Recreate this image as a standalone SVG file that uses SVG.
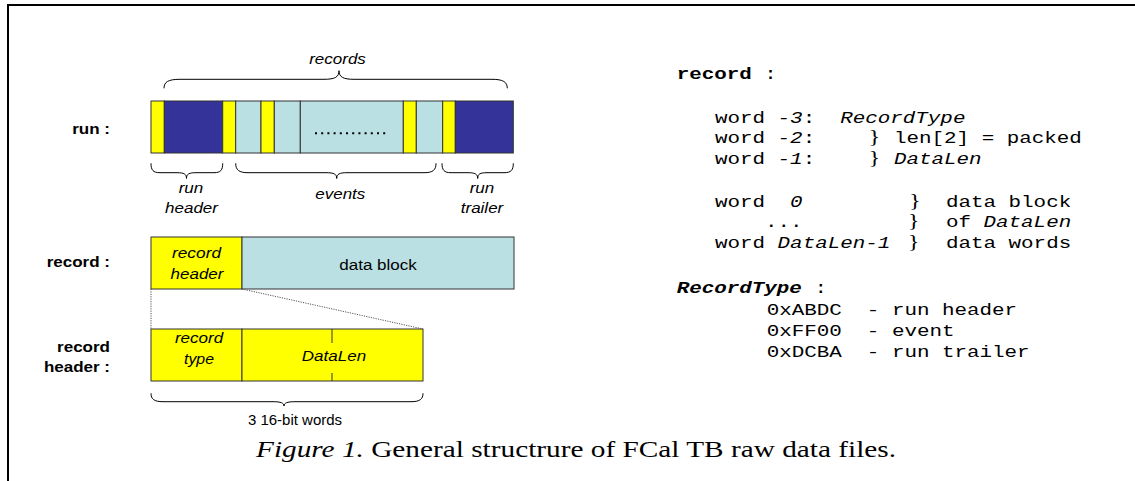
<svg xmlns="http://www.w3.org/2000/svg" width="1135" height="481" viewBox="0 0 1135 481">
<defs>
<style>
.y{fill:#FFFF00;stroke:#333333;stroke-width:1}
.n{fill:#333399;stroke:#333333;stroke-width:1}
.l{fill:#BBE0E3;stroke:#333333;stroke-width:1}
.br{fill:none;stroke:#000;stroke-width:1}
.dot{fill:none;stroke:#555;stroke-width:1;stroke-dasharray:1.2,1.2}
.lbl{font-family:"Liberation Sans",Arial,sans-serif;font-size:15.5px;font-weight:bold;fill:#000;text-anchor:end}
.it{font-family:"Liberation Sans",Arial,sans-serif;font-size:15.5px;font-style:italic;fill:#000;text-anchor:middle}
.rg{font-family:"Liberation Sans",Arial,sans-serif;font-size:15.5px;fill:#000;text-anchor:middle}
.mono{font-family:"Liberation Mono","Courier New",monospace;font-size:16.7px;fill:#000;white-space:pre}
.brc{font-family:"Liberation Serif","Times New Roman",serif;font-size:19px;fill:#000}
.i{font-style:italic}
.b{font-weight:bold}
.cap{font-family:"Liberation Serif","Times New Roman",serif;font-size:24px;fill:#000}
</style>
</defs>
<rect width="1135" height="481" fill="#fff"/>
<g id="frame">
<line x1="7" y1="5" x2="1135" y2="5" stroke="#000" stroke-width="2"/>
<line x1="8" y1="5" x2="8" y2="481" stroke="#000" stroke-width="2"/>
</g>

<g id="run-bar">
<rect class="y" x="151" y="101" width="13.3" height="52"/>
<rect class="n" x="164.3" y="101" width="58.4" height="52"/>
<rect class="y" x="222.7" y="101" width="13" height="52"/>
<rect class="l" x="235.7" y="101" width="25.3" height="52"/>
<rect class="y" x="261" y="101" width="13.3" height="52"/>
<rect class="l" x="274.3" y="101" width="26" height="52"/>
<rect class="l" x="300.3" y="101" width="103" height="52"/>
<line x1="315" y1="133.3" x2="389" y2="133.3" stroke="#000" stroke-width="2" stroke-dasharray="2,4.2"/>
<rect class="y" x="403.3" y="101" width="13" height="52"/>
<rect class="l" x="416.3" y="101" width="26.4" height="52"/>
<rect class="y" x="442.7" y="101" width="12.6" height="52"/>
<rect class="n" x="455.3" y="101" width="58" height="52"/>
</g>
<text class="lbl" x="110" y="133.5" textLength="37.8" lengthAdjust="spacingAndGlyphs">run :</text>

<g id="record-bar">
<rect class="y" x="151" y="237" width="91" height="52"/>
<rect class="l" x="242" y="237" width="272" height="52"/>
<text class="it" x="196.5" y="258" textLength="49" lengthAdjust="spacingAndGlyphs">record</text>
<text class="it" x="197" y="279" textLength="52.9" lengthAdjust="spacingAndGlyphs">header</text>
<text class="rg" x="378" y="270" textLength="77.5" lengthAdjust="spacingAndGlyphs">data block</text>
</g>
<text class="lbl" x="110" y="267" textLength="63.3" lengthAdjust="spacingAndGlyphs">record :</text>

<g id="record-header-bar">
<rect class="y" x="151" y="329" width="91" height="52"/>
<rect class="y" x="242" y="329" width="181" height="52"/>
<line x1="332" y1="329" x2="332" y2="343" stroke="#333" stroke-width="1"/>
<line x1="332" y1="373" x2="332" y2="381" stroke="#333" stroke-width="1"/>
<text class="it" x="199" y="343" textLength="48.2" lengthAdjust="spacingAndGlyphs">record</text>
<text class="it" x="199" y="364" textLength="30" lengthAdjust="spacingAndGlyphs">type</text>
<text class="it" x="334" y="361" textLength="64.3" lengthAdjust="spacingAndGlyphs">DataLen</text>
</g>
<text class="lbl" x="110" y="352" textLength="52.9" lengthAdjust="spacingAndGlyphs">record</text>
<text class="lbl" x="110" y="372" textLength="66.1" lengthAdjust="spacingAndGlyphs">header :</text>

<g id="connectors">
<line class="dot" x1="151" y1="289" x2="151" y2="329"/>
<line class="dot" x1="242" y1="289" x2="423" y2="329"/>
<path class="br" d="M164,88.3 C164,82 168,79.3 180,79.3 L324,79.3 C335,79.3 339,77 339,70.7 C339,77 343,79.3 354,79.3 L492,79.3 C503,79.3 507.3,82 507.3,88.3"/>
<path class="br" d="M151,163.3 C151,170 153,172.7 160,172.7 L177,172.7 C184,172.7 186.5,174 186.5,178.5 C186.5,174 189,172.7 196,172.7 L214,172.7 C220.7,172.7 222.7,170 222.7,163.3"/>
<path class="br" d="M235.7,163.3 C235.7,170 239,172.7 248,172.7 L326,172.7 C334,172.7 336.7,174 336.7,178.5 C336.7,174 339.5,172.7 347,172.7 L424,172.7 C433,172.7 436,170 436,163.3"/>
<path class="br" d="M442,163.3 C442,170 444,172.7 451,172.7 L468,172.7 C475,172.7 477.7,174 477.7,178.5 C477.7,174 480,172.7 487,172.7 L504,172.7 C511.3,172.7 513.3,170 513.3,163.3"/>
<path class="br" d="M151,393.3 C151,399 154,401.7 163,401.7 L273,401.7 C281,401.7 284,403 284,406 C284,403 287,401.7 295,401.7 L411,401.7 C420,401.7 423,399 423,393.3"/>
</g>
<text class="it" x="337.5" y="64" textLength="56.7" lengthAdjust="spacingAndGlyphs">records</text>
<text class="it" x="191" y="193.3" textLength="24.6" lengthAdjust="spacingAndGlyphs">run</text>
<text class="it" x="191.5" y="213.3" textLength="52.9" lengthAdjust="spacingAndGlyphs">header</text>
<text class="it" x="340.3" y="199.3" textLength="50" lengthAdjust="spacingAndGlyphs">events</text>
<text class="it" x="482" y="193.3" textLength="24.6" lengthAdjust="spacingAndGlyphs">run</text>
<text class="it" x="482" y="213.3" textLength="42.5" lengthAdjust="spacingAndGlyphs">trailer</text>
<text class="rg" x="295" y="425" style="font-size:14px" textLength="94.2" lengthAdjust="spacingAndGlyphs">3 16-bit words</text>

<g id="record-spec" transform="scale(1.25,1)">
<text class="mono" xml:space="preserve" x="541.36" y="79"><tspan class="b">record</tspan> :</text>
<text class="mono" xml:space="preserve" x="572" y="122.7">word <tspan class="i">-3</tspan>:  <tspan class="i">RecordType</tspan></text>
<text class="mono" xml:space="preserve" x="572" y="143.3">word <tspan class="i">-2</tspan>:</text>
<text class="mono" xml:space="preserve" x="572" y="163.7">word <tspan class="i">-1</tspan>:</text>
<text class="brc" x="695" y="143.3">}</text>
<text class="brc" x="695" y="163.7">}</text>
<text class="mono" xml:space="preserve" x="715.2" y="143.3">len[2] = packed</text>
<text class="mono" x="715.2" y="163.7" font-style="italic">DataLen</text>
<text class="mono" xml:space="preserve" x="572" y="206.7">word  <tspan class="i">0</tspan></text>
<text class="mono" xml:space="preserve" x="572" y="227.2">    ...</text>
<text class="mono" xml:space="preserve" x="572" y="247.7">word <tspan class="i">DataLen-1</tspan></text>
<text class="brc" x="727.5" y="206.7">}</text>
<text class="brc" x="726.5" y="227.2">}</text>
<text class="brc" x="726.5" y="247.7">}</text>
<text class="mono" xml:space="preserve" x="756.8" y="206.7">data block</text>
<text class="mono" xml:space="preserve" x="756.8" y="227.2">of <tspan class="i">DataLen</tspan></text>
<text class="mono" xml:space="preserve" x="756.8" y="247.7">data words</text>
</g>

<g id="recordtype-spec" transform="scale(1.25,1)">
<text class="mono" xml:space="preserve" x="541.36" y="292.7"><tspan class="b i">RecordType</tspan> :</text>
<text class="mono" xml:space="preserve" x="613.36" y="315">0xABDC  - run header</text>
<text class="mono" xml:space="preserve" x="613.36" y="336.3">0xFF00  - event</text>
<text class="mono" xml:space="preserve" x="613.36" y="356.7">0xDCBA  - run trailer</text>
</g>

<text class="cap" x="256" y="457" textLength="640" lengthAdjust="spacingAndGlyphs"><tspan font-style="italic">Figure 1.</tspan> General structrure of FCal TB raw data files.</text>
</svg>
